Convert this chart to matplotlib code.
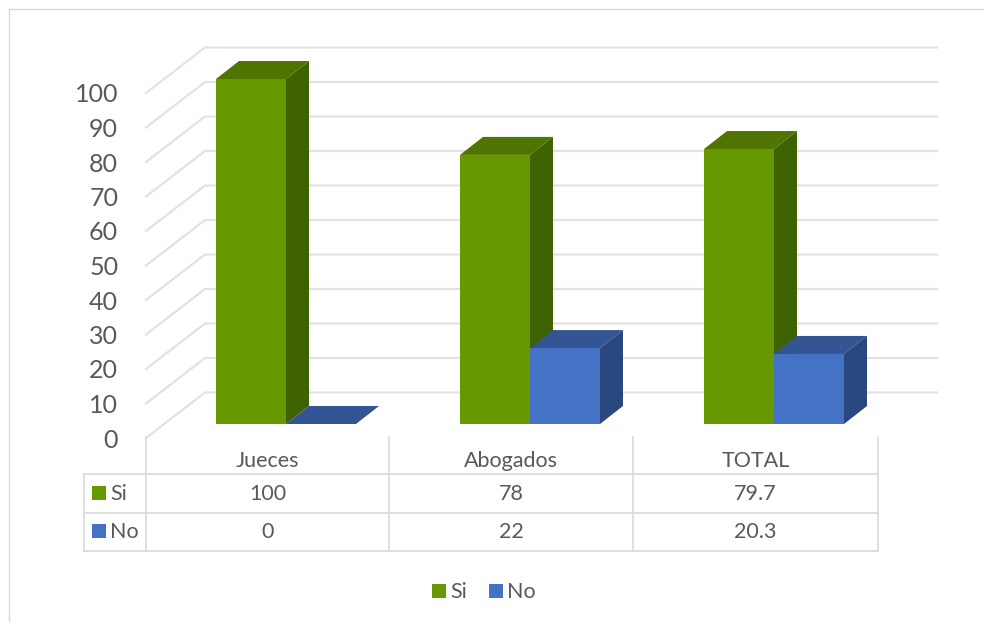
import matplotlib
matplotlib.use("Agg")
import matplotlib.pyplot as plt
from matplotlib.lines import Line2D
from matplotlib.patches import Polygon, Rectangle

categories = ["Jueces", "Abogados", "TOTAL"]
si_values = [100, 78, 79.7]
no_values = [0, 22, 20.3]
si_labels = ["100", "78", "79.7"]
no_labels = ["0", "22", "20.3"]
y_ticks = [0, 10, 20, 30, 40, 50, 60, 70, 80, 90, 100]

GREEN = ("#669900", "#4f7500", "#3e6200")   # front, top, side
BLUE = ("#4472c4", "#335593", "#2a4880")
TEXT = "#595959"
GRID = "#e2e2e2"
LINE = "#d9d9d9"

W, H = 984, 622
plt.rcParams["font.family"] = ["Lato", "DejaVu Sans"]

fig = plt.figure(figsize=(W / 100, H / 100), dpi=100)


def fx(x):
    return x / W


def fy(y):
    return 1 - y / H


# plot area in pixels of the picture
ax = fig.add_axes([fx(146), fy(438), (878 - 146) / W, (438 - 93) / H])
ax.set_xlim(0, len(categories))
ax.set_ylim(0, 100)
ux = 244 / 1.0   # px per category
uy = 3.45        # px per value unit

for s in ax.spines.values():
    s.set_visible(False)
ax.patch.set_visible(False)
ax.set_xticks([])
ax.set_yticks(y_ticks)
ax.tick_params(axis="y", length=0, pad=20, labelsize=18, labelcolor=TEXT)

# floor/back wall
wall_dx, wall_dy = 59 / ux, 45.5 / uy
for v in y_ticks:
    ax.plot([0, wall_dx, 3 + wall_dx], [v, v + wall_dy, v + wall_dy],
            color=GRID, lw=1.6, clip_on=False, zorder=1, solid_joinstyle="miter")

# bars
bar_w = 70 / ux
bar_dx, bar_dy = 23 / ux, 18 / uy
base_dx, base_y = 18 / ux, 14 / uy


def box(x0, v, colors, z):
    x1 = x0 + bar_w
    y0, y1 = base_y, base_y + v
    front, top, side = colors
    ax.add_patch(Polygon([(x1, y0), (x1 + bar_dx, y0 + bar_dy), (x1 + bar_dx, y1 + bar_dy), (x1, y1)],
                         fc=side, ec="none", clip_on=False, zorder=z))
    ax.add_patch(Polygon([(x0, y1), (x0 + bar_dx, y1 + bar_dy), (x1 + bar_dx, y1 + bar_dy), (x1, y1)],
                         fc=top, ec="none", clip_on=False, zorder=z))
    if v > 0:
        ax.add_patch(Polygon([(x0, y0), (x1, y0), (x1, y1), (x0, y1)],
                             fc=front, ec="none", clip_on=False, zorder=z + 0.1))


for i, (si, no) in enumerate(zip(si_values, no_values)):
    c = i + 0.5 + base_dx
    box(c - bar_w, si, GREEN, 3)
    box(c, no, BLUE, 4)

# data table
col_x = [146, 389, 633, 878]
row_y = [474, 512.5, 550.5]
for x in col_x:
    fig.add_artist(Line2D([fx(x), fx(x)], [fy(437), fy(row_y[-1])], color=LINE, lw=1.2))
fig.add_artist(Line2D([fx(84), fx(84)], [fy(row_y[0]), fy(row_y[-1])], color=LINE, lw=1.2))
for y in row_y:
    fig.add_artist(Line2D([fx(84), fx(878)], [fy(y), fy(y)], color=LINE, lw=1.2))

for i, name in enumerate(categories):
    xc = (col_x[i] + col_x[i + 1]) / 2
    fig.text(fx(xc), fy(461), name, ha="center", va="center", fontsize=15.5, color=TEXT)
    fig.text(fx(xc), fy(494), si_labels[i], ha="center", va="center", fontsize=15.5, color=TEXT)
    fig.text(fx(xc), fy(532), no_labels[i], ha="center", va="center", fontsize=15.5, color=TEXT)


def key(x, y, color, label):
    fig.add_artist(Rectangle((fx(x), fy(y + 14)), 14 / W, 14 / H, fc=color, ec="none",
                             transform=fig.transFigure))
    fig.text(fx(x + 18), fy(y + 8), label, ha="left", va="center", fontsize=15.5, color=TEXT)


key(92, 486, GREEN[0], "Si")
key(92, 524, BLUE[0], "No")
# legend at the bottom
key(432, 584, GREEN[0], "Si")
key(489, 584, BLUE[0], "No")

# chart frame
fig.add_artist(Line2D([fx(9), fx(9), fx(W)], [fy(H), fy(9), fy(9)], color=LINE, lw=1.0))

fig.savefig("out.png", dpi=100)
